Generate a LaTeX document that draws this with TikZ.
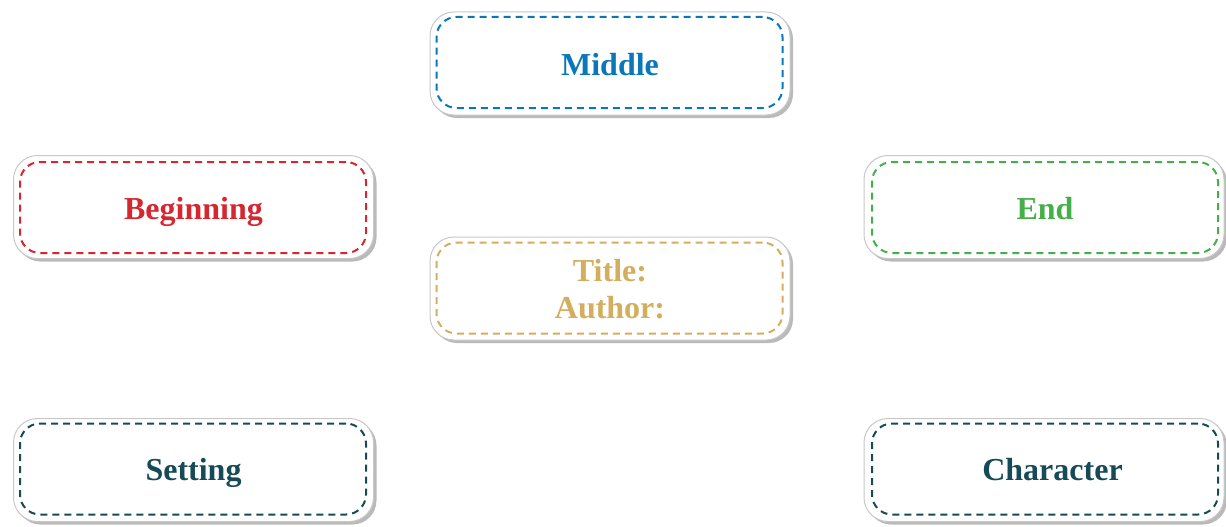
\documentclass[tikz,border=0pt]{standalone}
\usepackage{fontspec}
\setmainfont{Liberation Serif}
\usetikzlibrary{shadows}
\definecolor{cmid}{RGB}{10,120,184}
\definecolor{cbeg}{RGB}{214,38,48}
\definecolor{ctit}{RGB}{212,174,95}
\definecolor{cend}{RGB}{69,176,74}
\definecolor{cset}{RGB}{23,74,87}
\definecolor{cbord}{RGB}{200,200,200}
\tikzset{
  outerbox/.style={draw=cbord, line width=1pt, fill=white, rounded corners=24pt,
    minimum width=360pt, minimum height=103pt, inner sep=0pt,
    drop shadow={shadow xshift=3pt, shadow yshift=-3pt, fill=black!45, opacity=0.6}},
  innerbox/.style={draw=#1, dashed, dash pattern=on 7pt off 5pt, line width=2pt,
    rounded corners=20pt, minimum width=346pt, minimum height=91pt, inner sep=0pt},
  txt/.style={text=#1, anchor=base, inner sep=0pt,
    font=\bfseries\fontsize{32}{37}\selectfont, align=center},
}
\begin{document}
\begin{tikzpicture}[x=1pt,y=-1pt]
\useasboundingbox (0,0) rectangle (1226,527);
\node[outerbox] (midO) at (610,63.5) {};
\node[innerbox=cmid] (mid) at (609.5,62.5) {};
\node[txt=cmid] (midT) at (610,75) {Middle};
\node[outerbox] (begO) at (193.5,207) {};
\node[innerbox=cbeg] (beg) at (193,207.5) {};
\node[txt=cbeg] (begT) at (193.5,219.5) {Beginning};
\node[outerbox] (titO) at (610,288.5) {};
\node[innerbox=ctit] (tit) at (609.5,288) {};
\node[txt=ctit] (titT) at (610,318.5) {Title:\\Author:};
\node[outerbox] (endO) at (1044,207) {};
\node[innerbox=cend] (end) at (1045,207.5) {};
\node[txt=cend] (endT) at (1045,219.5) {End};
\node[outerbox] (setO) at (193.5,470) {};
\node[innerbox=cset] (set) at (193,469) {};
\node[txt=cset] (setT) at (193.5,480) {Setting};
\node[outerbox] (chaO) at (1044,470) {};
\node[innerbox=cset] (cha) at (1045,469) {};
\node[txt=cset] (chaT) at (1052.5,480) {Character};
\end{tikzpicture}
\end{document}
